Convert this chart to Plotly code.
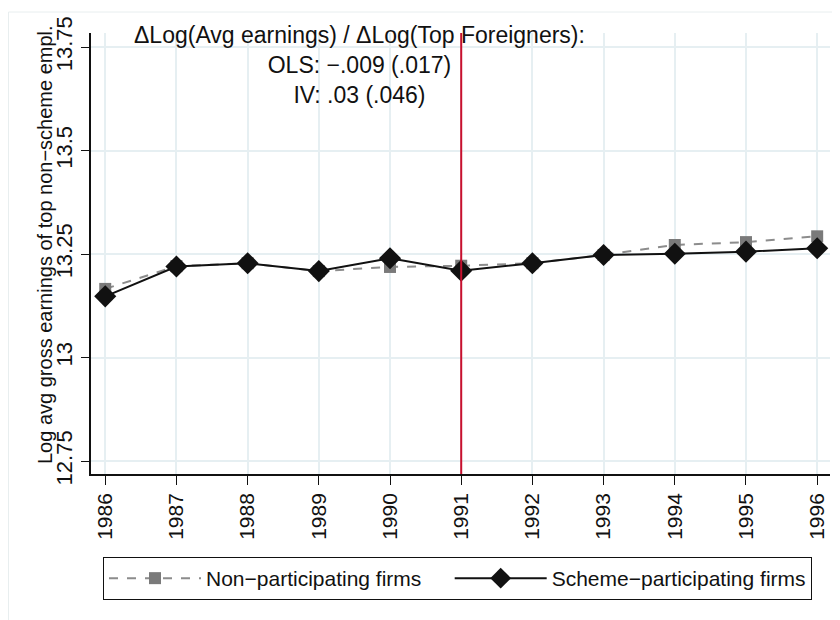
import plotly.graph_objects as go

years = [1986, 1987, 1988, 1989, 1990, 1991, 1992, 1993, 1994, 1995, 1996]
non_part = [13.166, 13.221, 13.228, 13.209, 13.219, 13.222, 13.228, 13.248, 13.272, 13.279, 13.293]
scheme = [13.148, 13.220, 13.228, 13.209, 13.240, 13.210, 13.228, 13.248, 13.251, 13.256, 13.264]
y_ticks = [12.75, 13, 13.25, 13.5, 13.75]
y_ticktext = ["12.75", "13", "13.25", "13.5", "13.75"]
note = "ΔLog(Avg earnings) / ΔLog(Top Foreigners):<br>OLS: −.009 (.017)<br>IV: .03 (.046)"
y_title = "Log avg gross earnings of top non−scheme empl."

FONT = "Liberation Sans, Arial, sans-serif"
GRID = "#e6eff2"

# the page body adds an 8px offset, so the figure is 8px smaller and positions are page-8
OFF = 8
L, R, T, B = 91 - OFF, 830 - OFF, 33 - OFF, 474 - OFF
FW, FH = 840 - OFF, 620 - OFF
W, H = R - L, B - T


def px(x):  # page pixel -> paper x
    return (x - OFF - L) / W


def py(y):  # page pixel -> paper y
    return (B - (y - OFF)) / H


fig = go.Figure()
fig.add_trace(go.Scatter(
    x=years, y=non_part, mode="lines+markers",
    name="Non−participating firms\u00a0\u00a0\u00a0\u00a0",
    line=dict(color="#8c8c8c", width=2, dash="dash"),
    marker=dict(symbol="square", size=12, color="#7a7a7a")))
fig.add_trace(go.Scatter(
    x=years, y=scheme, mode="lines+markers", name="Scheme−participating firms",
    line=dict(color="#111111", width=2),
    marker=dict(symbol="diamond", size=17, color="#111111")))

# vertical line at 1991
fig.add_shape(type="line", xref="x", yref="paper", x0=1991, x1=1991, y0=0, y1=1,
              line=dict(color="#c8102e", width=2))

# faint graph-region outline
fig.add_shape(type="rect", xref="paper", yref="paper",
              x0=px(8.5), x1=px(860), y0=py(640), y1=py(12),
              line=dict(color="#e8eeef", width=1), layer="below")

fig.add_annotation(text=note, xref="paper", yref="paper", x=px(359), y=py(20),
                   xanchor="center", yanchor="top", showarrow=False, align="center",
                   font=dict(family=FONT, size=23, color="#111111"))

fig.add_annotation(text=y_title, xref="paper", yref="paper", x=px(45), y=py(245),
                   xanchor="center", yanchor="middle", showarrow=False, textangle=-90,
                   font=dict(family=FONT, size=20, color="#111111"))

fig.update_layout(
    width=FW, height=FH,
    margin=dict(l=L, r=FW - R, t=T, b=FH - B),
    paper_bgcolor="white", plot_bgcolor="white",
    font=dict(family=FONT, size=18, color="#111111"),
    showlegend=True,
    legend=dict(orientation="h", x=px(103), y=py(557), xanchor="left", yanchor="top",
                bordercolor="#111111", borderwidth=1, font=dict(size=21),
                itemwidth=92, tracegroupgap=0),
)
fig.update_xaxes(
    range=[1985.8, 1996.18], tickvals=years, tickangle=-90, automargin=False,
    showgrid=True, gridcolor=GRID, gridwidth=2,
    showline=True, linecolor="#111111", linewidth=1.5,
    ticks="outside", ticklen=9, tickcolor="#111111", zeroline=False,
    tickfont=dict(size=21))
fig.update_yaxes(
    range=[12.719, 13.784], tickvals=y_ticks, ticktext=y_ticktext, tickangle=-90, automargin=False,
    showgrid=True, gridcolor=GRID, gridwidth=2,
    showline=True, linecolor="#111111", linewidth=1.5,
    ticks="outside", ticklen=8, tickcolor="#111111", zeroline=False,
    tickfont=dict(size=22))

fig.write_html("out.html")
